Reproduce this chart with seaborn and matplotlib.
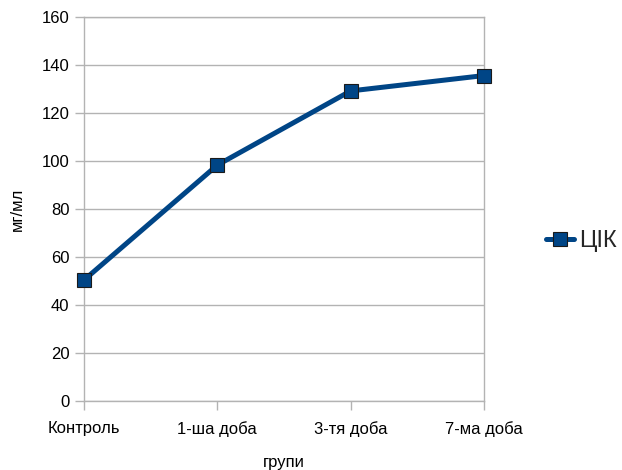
import matplotlib
matplotlib.use("Agg")
import matplotlib.pyplot as plt
import seaborn as sns
import pandas as pd
from matplotlib.lines import Line2D

# Data
groups = ["Контроль", "1-ша доба", "3-тя доба", "7-ма доба"]
values = [50.4, 98.3, 129.2, 135.6]
series_name = "ЦІК"
y_ticks = [0, 20, 40, 60, 80, 100, 120, 140, 160]

sns.set_theme(style="white")
plt.rcParams["font.family"] = ["Liberation Sans", "DejaVu Sans"]

df = pd.DataFrame({"група": groups, "значення": values})

line_color = "#004586"
grid_color = "#b3b3b3"

fig = plt.figure(figsize=(6.22, 4.70), dpi=100)
ax = fig.add_axes([84 / 622, 1 - 401 / 470, 400 / 622, 384 / 470])

sns.lineplot(data=df, x="група", y="значення", ax=ax, color=line_color,
             linewidth=3.6, marker="s", markersize=10.5,
             markerfacecolor=line_color, markeredgecolor="#1a1a1a",
             markeredgewidth=0.8, sort=False, zorder=5, clip_on=False)

ax.set_xlim(0, len(groups) - 1)
ax.set_ylim(0, 160)
ax.set_yticks(y_ticks)
ax.set_xticks(range(len(groups)))
ax.set_xticklabels(groups)

ax.grid(axis="y", color=grid_color, linewidth=1)
ax.grid(axis="x", visible=False)
ax.set_axisbelow(True)
for side in ["left", "bottom", "right", "top"]:
    ax.spines[side].set_visible(True)
    ax.spines[side].set_color(grid_color)
    ax.spines[side].set_linewidth(1)

ax.tick_params(axis="both", direction="out", length=6.5, width=1,
               color=grid_color, labelsize=12, labelcolor="black")
ax.tick_params(axis="y", pad=4)
ax.tick_params(axis="x", pad=8)
ax.xaxis.set_ticks_position("bottom")
ax.yaxis.set_ticks_position("left")

ax.set_xlabel("групи", fontsize=12, labelpad=13, color="black")
ax.set_ylabel("мг/мл", fontsize=12, labelpad=12, color="black")

handle = Line2D([], [], color=line_color, linewidth=3.6, marker="s",
                markersize=10.5, markerfacecolor=line_color,
                markeredgecolor="#1a1a1a", markeredgewidth=0.8)
fig.legend([handle], [series_name], loc="center left",
           bbox_to_anchor=(546 / 622, 1 - 241 / 470), frameon=False,
           fontsize=17, handlelength=1.2, handletextpad=0.2,
           borderpad=0, borderaxespad=0)

fig.savefig("out.png", dpi=100, facecolor="white")
